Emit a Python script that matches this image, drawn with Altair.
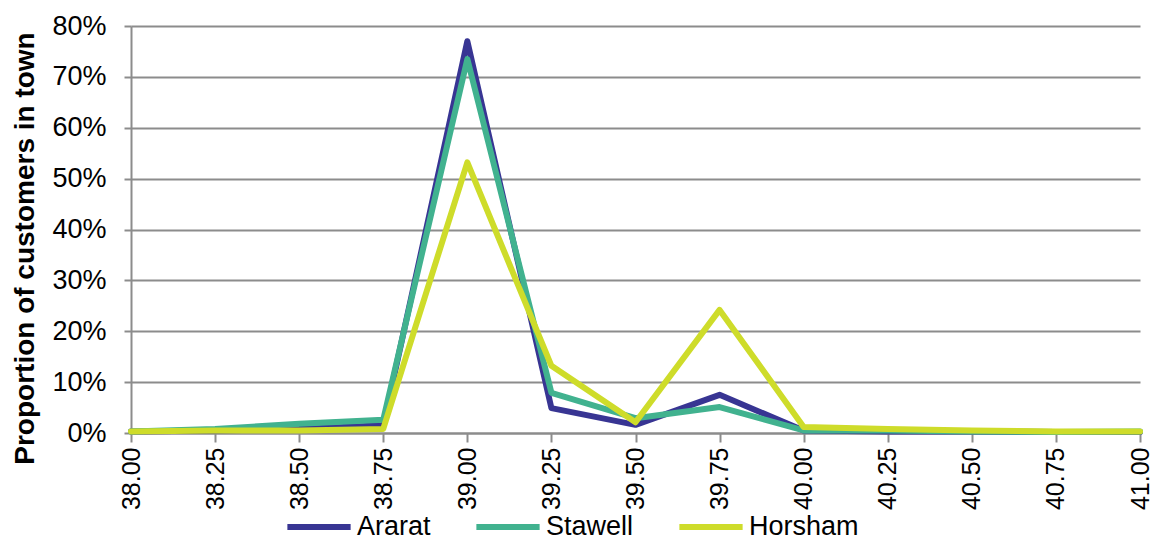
import altair as alt
import pandas as pd

x_ticks = [38.00, 38.25, 38.50, 38.75, 39.00, 39.25, 39.50, 39.75, 40.00, 40.25, 40.50, 40.75, 41.00]
series = ["Ararat", "Stawell", "Horsham"]
ararat = [0.003, 0.005, 0.008, 0.015, 0.770, 0.049, 0.016, 0.075, 0.005, 0.003, 0.003, 0.002, 0.002]
stawell = [0.003, 0.008, 0.018, 0.026, 0.735, 0.079, 0.029, 0.051, 0.005, 0.005, 0.003, 0.002, 0.003]
horsham = [0.003, 0.005, 0.005, 0.008, 0.532, 0.132, 0.021, 0.242, 0.012, 0.008, 0.005, 0.003, 0.003]
colors = ["#383593", "#41b28f", "#cedc2a"]
y_ticks = [0, 0.1, 0.2, 0.3, 0.4, 0.5, 0.6, 0.7, 0.8]

rows = []
for name, vals in zip(series, [ararat, stawell, horsham]):
    for xv, yv in zip(x_ticks, vals):
        rows.append({"x": xv, "y": yv, "series": name})
df = pd.DataFrame(rows)

FONT = "Liberation Sans"
GRAY = "#8c8c8c"

chart = alt.Chart(df).mark_line(strokeWidth=6, strokeCap="round", strokeJoin="round").encode(
    x=alt.X("x:Q",
            scale=alt.Scale(domain=[38, 41], nice=False, zero=False),
            axis=alt.Axis(values=x_ticks, format=".2f", labelAngle=270, labelFontSize=25,
                          labelFont=FONT, labelColor="black", labelPadding=5,
                          tickSize=9, tickColor=GRAY, tickWidth=2,
                          domainColor=GRAY, domainWidth=2, grid=False, title=None,
                          labelFlush=False, labelOverlap=False)),
    y=alt.Y("y:Q",
            scale=alt.Scale(domain=[0, 0.8], nice=False),
            axis=alt.Axis(values=y_ticks, format=".0%", labelFontSize=27, labelFont=FONT,
                          labelColor="black", labelPadding=18, tickSize=7, tickColor=GRAY,
                          tickWidth=2, domainColor=GRAY, domainWidth=2,
                          grid=True, gridColor=GRAY, gridWidth=2,
                          title="Proportion of customers in town", titleFont=FONT,
                          titleFontSize=28, titleFontWeight="bold", titleColor="black",
                          titleAngle=270, titleX=-98, titleY=222, titleAlign="center",
                          titleBaseline="alphabetic", labelFlush=False, labelOverlap=False)),
    color=alt.Color("series:N",
                    scale=alt.Scale(domain=series, range=colors),
                    sort=series,
                    legend=alt.Legend(title=None, orient="none", direction="horizontal",
                                      legendX=153, legendY=466,
                                      symbolType="stroke", symbolSize=4000,
                                      symbolStrokeWidth=6, labelFontSize=27,
                                      labelFont=FONT, labelColor="black", labelOffset=3,
                                      columnPadding=33, labelLimit=300)),
).properties(
    width=1009,
    height=407,
    autosize=alt.AutoSizeParams(type="none"),
    padding={"left": 123, "top": 18, "right": 10, "bottom": 106},
).configure_view(stroke=None)

chart.save("out.html", embed_options={"renderer": "svg", "actions": False})
